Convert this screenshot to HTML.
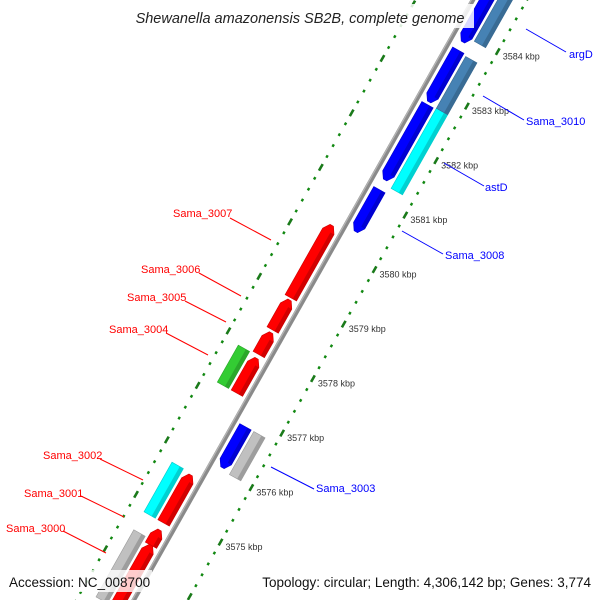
<!DOCTYPE html>
<html><head><meta charset="utf-8"><style>
html,body{margin:0;padding:0;background:#fff;width:600px;height:600px;overflow:hidden}
svg{display:block;font-family:"Liberation Sans","DejaVu Sans",sans-serif}
</style></head><body>
<svg id="map" width="600" height="600" viewBox="0 0 600 600" xmlns="http://www.w3.org/2000/svg" overflow="hidden">
<rect x="0" y="0" width="600" height="600" fill="#fff"/>
<g id="tracks"></g>
<g id="genes"></g>
<g id="ticks"></g>
<g id="labels"></g>
<g>
<rect x="126" y="4" width="348" height="24" fill="#fff" opacity="0.85"/>
<text x="300" y="23" text-anchor="middle" font-size="14.5" font-style="italic" fill="#222">Shewanella amazonensis SB2B, complete genome</text>
</g>
<g>
<rect x="4" y="570" width="148" height="22" fill="#fff" opacity="0.8"/>
<text x="9" y="587" font-size="13.5" fill="#111">Accession: NC_008700</text>
<rect x="256" y="570" width="340" height="22" fill="#fff" opacity="0.8"/>
<text x="591" y="587" text-anchor="end" font-size="13.5" fill="#111">Topology: circular; Length: 4,306,142 bp; Genes: 3,774</text>
</g>
</svg>
<script>
// ---- data ----
const geneNames = ["Sama_3007","Sama_3006","Sama_3005","red-a","red-b","red-c","red-d","green-a","Sama_3002","Sama_3000","Sama_3003","Sama_3008","blue-a","blue-b","blue-c","gray-a","astD","Sama_3010","argD"];
const geneStart = [3578.95,3578.36,3577.91,3577.20,3574.82,3574.41,3573.16,3577.20,3574.82,3573.26,3576.05,3580.38,3581.33,3582.76,3583.86,3576.01,3581.26,3582.73,3583.96];
const geneEnd   = [3580.28,3578.91,3578.31,3577.84,3575.70,3574.69,3574.41,3577.88,3575.73,3574.49,3576.80,3581.15,3582.71,3583.71,3586.20,3576.80,3582.73,3583.68,3586.20];
const geneStrand = [1,1,1,1,1,1,1,0,0,0,-1,-1,-1,-1,-1,0,0,0,0];
const geneTrack = ["fi","fi","fi","fi","fi","fi","fi","fo","fo","fo","ri","ri","ri","ri","ri","ro","ro","ro","ro"];
const geneColor = ["#ff0000","#ff0000","#ff0000","#ff0000","#ff0000","#ff0000","#ff0000","#33cc33","#00ffff","#c0c0c0","#0000ff","#0000ff","#0000ff","#0000ff","#0000ff","#c0c0c0","#00ffff","#4682b4","#4682b4"];
const tickValues = [3575,3576,3577,3578,3579,3580,3581,3582,3583,3584];
const tickLabels = ["3575 kbp","3576 kbp","3577 kbp","3578 kbp","3579 kbp","3580 kbp","3581 kbp","3582 kbp","3583 kbp","3584 kbp"];

// ---- axis functions ----
const NS="http://www.w3.org/2000/svg";
const ux=30.8, uy=-54.5, nx=0.871, ny=0.492;
function P(k,s){const d=k-3575;return [179.6+ux*d+nx*s, 519+uy*d+ny*s];}
const trackOffset={fi:-12,fo:-28,ri:12,ro:28};
function mk(tag,attrs,parent){const e=document.createElementNS(NS,tag);for(const a in attrs)e.setAttribute(a,attrs[a]);parent.appendChild(e);return e;}
function pts(a){return a.map(p=>p[0].toFixed(1)+","+p[1].toFixed(1)).join(" ");}

// backbone
const tracks=document.getElementById('tracks');
const b0=P(3572.2,0), b1=P(3586.3,0);
let bb=mk('line',{x1:b0[0],y1:b0[1],x2:b1[0],y2:b1[1],stroke:'#8a8a8a','stroke-width':4.5},tracks);


let bb2=mk('line',{x1:b0[0]-1.2,y1:b0[1]-0.7,x2:b1[0]-1.2,y2:b1[1]-0.7,stroke:'#b5b5b5','stroke-width':1.2},tracks);



// dotted tick tracks
[-50,47].forEach((s,ti)=>{
  for(let i=0;i<=75;i++){
    const k=3571.8+i*0.2;
    const isMajor=Math.abs(k-Math.round(k))<0.01;
    const len=isMajor?0.06:0.022;
    const a=P(k-len,s), b=P(k+len,s);
    const d=mk('line',{x1:a[0],y1:a[1],x2:b[0],y2:b[1],stroke:isMajor?'#1a7a1a':'#118811','stroke-width':isMajor?2.6:2.4},tracks);
    
    
  }
});

// genes
const genes=document.getElementById('genes');
function shade(c,f){const n=parseInt(c.slice(1),16);let r=(n>>16)&255,g=(n>>8)&255,b=n&255;r=Math.round(r*f);g=Math.round(g*f);b=Math.round(b*f);return `rgb(${r},${g},${b})`;}
geneNames.forEach((nm,i)=>{
  const s=trackOffset[geneTrack[i]], w=6.5, k1=geneStart[i], k2=geneEnd[i], st=geneStrand[i];
  const h=Math.min(0.11,(k2-k1)*0.4);
  let poly;
  if(st===1) poly=[P(k1,s-w),P(k2-h,s-w),P(k2,s-w*0.3),P(k2,s+w*0.3),P(k2-h,s+w),P(k1,s+w)];
  else if(st===-1) poly=[P(k2,s-w),P(k1+h,s-w),P(k1,s-w*0.3),P(k1,s+w*0.3),P(k1+h,s+w),P(k2,s+w)];
  else poly=[P(k1,s-w),P(k2,s-w),P(k2,s+w),P(k1,s+w)];
  const g=mk('g',{},genes);
  
  
  const p=mk('polygon',{points:pts(poly),fill:geneColor[i],stroke:shade(geneColor[i],0.8),'stroke-width':0.6},g);
  
  
  const ka=st===-1?k1+h:k1, kb=st===1?k2-h:k2;
  const side=mk('polygon',{points:pts([P(ka,s+w*0.35),P(kb,s+w*0.35),P(kb,s+w),P(ka,s+w)]),fill:shade(geneColor[i],0.82)},g);
  
  
});

// tick labels
const ticks=document.getElementById('ticks');
tickValues.forEach((v,i)=>{
  const p=P(v,47);
  const t=mk('text',{x:p[0]+5,y:p[1]+8,'font-size':9,fill:'#333'},ticks);
  t.textContent=tickLabels[i];
  
  
});

// gene labels
const labels=document.getElementById('labels');
const labelText=["Sama_3007","Sama_3006","Sama_3005","Sama_3004","Sama_3002","Sama_3001","Sama_3000","argD","Sama_3010","astD","Sama_3008","Sama_3003"];
const labelColor=["#f00","#f00","#f00","#f00","#f00","#f00","#f00","#00f","#00f","#00f","#00f","#00f"];
const labelPos=[[173,217],[141,273],[127,301],[109,333],[43,459],[24,497],[6,532],[569,58],[526,125],[485,191],[445,259],[316,492]];
const leader=[[230,218,271,240],[199,273,241,296],[185,301,226,322],[166,333,208,355],[100,459,143,480],[81,496,124,517],[63,531,106,553],[526,29,566,52],[483,96,524,120],[444,163,484,186],[402,231,443,254],[271,467,314,489]];
labelText.forEach((lt,i)=>{
  const l=leader[i];
  const ln=mk('line',{x1:l[0],y1:l[1],x2:l[2],y2:l[3],stroke:labelColor[i],'stroke-width':1},labels);
  
  
  const t=mk('text',{x:labelPos[i][0],y:labelPos[i][1],'font-size':11,fill:labelColor[i]},labels);
  t.textContent=lt;
  
  
});
</script>
</body></html>
